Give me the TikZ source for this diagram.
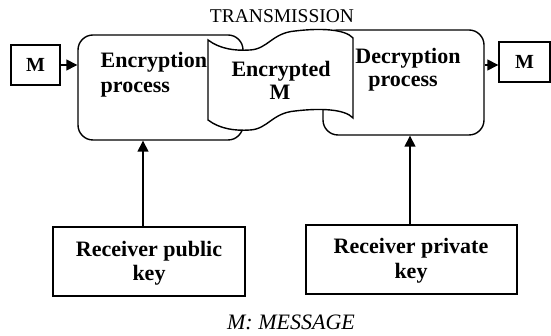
\documentclass[tikz,border=0pt]{standalone}
\usepackage{fontspec}
\setmainfont{Liberation Serif}
\usetikzlibrary{arrows.meta}
\begin{document}
\begin{tikzpicture}[x=1pt,y=-1pt,line width=1.4pt,
  box/.style={draw,rectangle,inner sep=0pt},
  rbox/.style={draw,rectangle,rounded corners=15pt,inner sep=0pt},
  bt/.style={font=\fontsize{22}{24}\selectfont\bfseries,inner sep=0pt},
  mt/.style={font=\fontsize{20}{22}\selectfont\bfseries},
  arr/.style={-{Triangle[length=11pt,width=11pt]}}]
\useasboundingbox (0,0) rectangle (551,336);
% boxes
\node[box,mt,minimum width=49pt,minimum height=40pt] (mL) at (35.5,65) {M};
\node[rbox,minimum width=165pt,minimum height=105pt] (enc) at (160.5,87.5) {};
\node[rbox,minimum width=161pt,minimum height=105pt] (dec) at (403.5,82.5) {};
\node[box,mt,minimum width=51pt,minimum height=40pt] (mR) at (524.5,62) {M};
\node[box,minimum width=192pt,minimum height=69pt] (pub) at (149,261.5) {};
\node[box,minimum width=211pt,minimum height=69pt] (priv) at (411.5,259.5) {};
% tape (encrypted message)
\draw[fill=white] (208,40) .. controls (220,49) and (235,51) .. (250,50)
  .. controls (268,49) and (272,33) .. (295,31)
  .. controls (320,28) and (345,29) .. (353,38)
  -- (353,118)
  .. controls (345,109) and (320,108) .. (295,111)
  .. controls (272,113) and (268,129) .. (250,130)
  .. controls (235,131) and (220,129) .. (208,120) -- cycle;
% texts
\node[bt,anchor=base west] (e1) at (100,68) {Encryption};
\node[bt,anchor=base west] (e2) at (100,93) {process};
\node[bt,anchor=base] (t1) at (281,77) {Encrypted};
\node[bt,anchor=base] (t2) at (280,100) {M};
\node[bt,anchor=base] (d1) at (408,64) {Decryption};
\node[bt,anchor=base] (d2) at (403,87) {process};
\node[bt,anchor=base] (r1) at (149,257) {Receiver public};
\node[bt,anchor=base] (r2) at (149,281) {key};
\node[bt,anchor=base] (s1) at (411,254) {Receiver private};
\node[bt,anchor=base] (s2) at (411,279) {key};
\node[font=\fontsize{19.5}{22}\selectfont,anchor=base,inner sep=0pt] (tr) at (282,23) {TRANSMISSION};
\node[font=\fontsize{22}{24}\selectfont\itshape,anchor=base,inner sep=0pt] (msg) at (291,330) {M: MESSAGE};
% connectors
\draw[arr] (mL.east) -- (mL.east -| enc.west);
\coordinate (ain) at ([yshift=-3pt]mR.west);
\draw[arr] (ain -| dec.east) -- (ain);
\coordinate (p1) at ([xshift=-6pt]pub.north);
\draw[arr] (p1) -- (p1 |- enc.south);
\coordinate (p2) at ([xshift=-1.5pt]priv.north);
\draw[arr] (p2) -- (p2 |- dec.south);
\end{tikzpicture}
\end{document}
